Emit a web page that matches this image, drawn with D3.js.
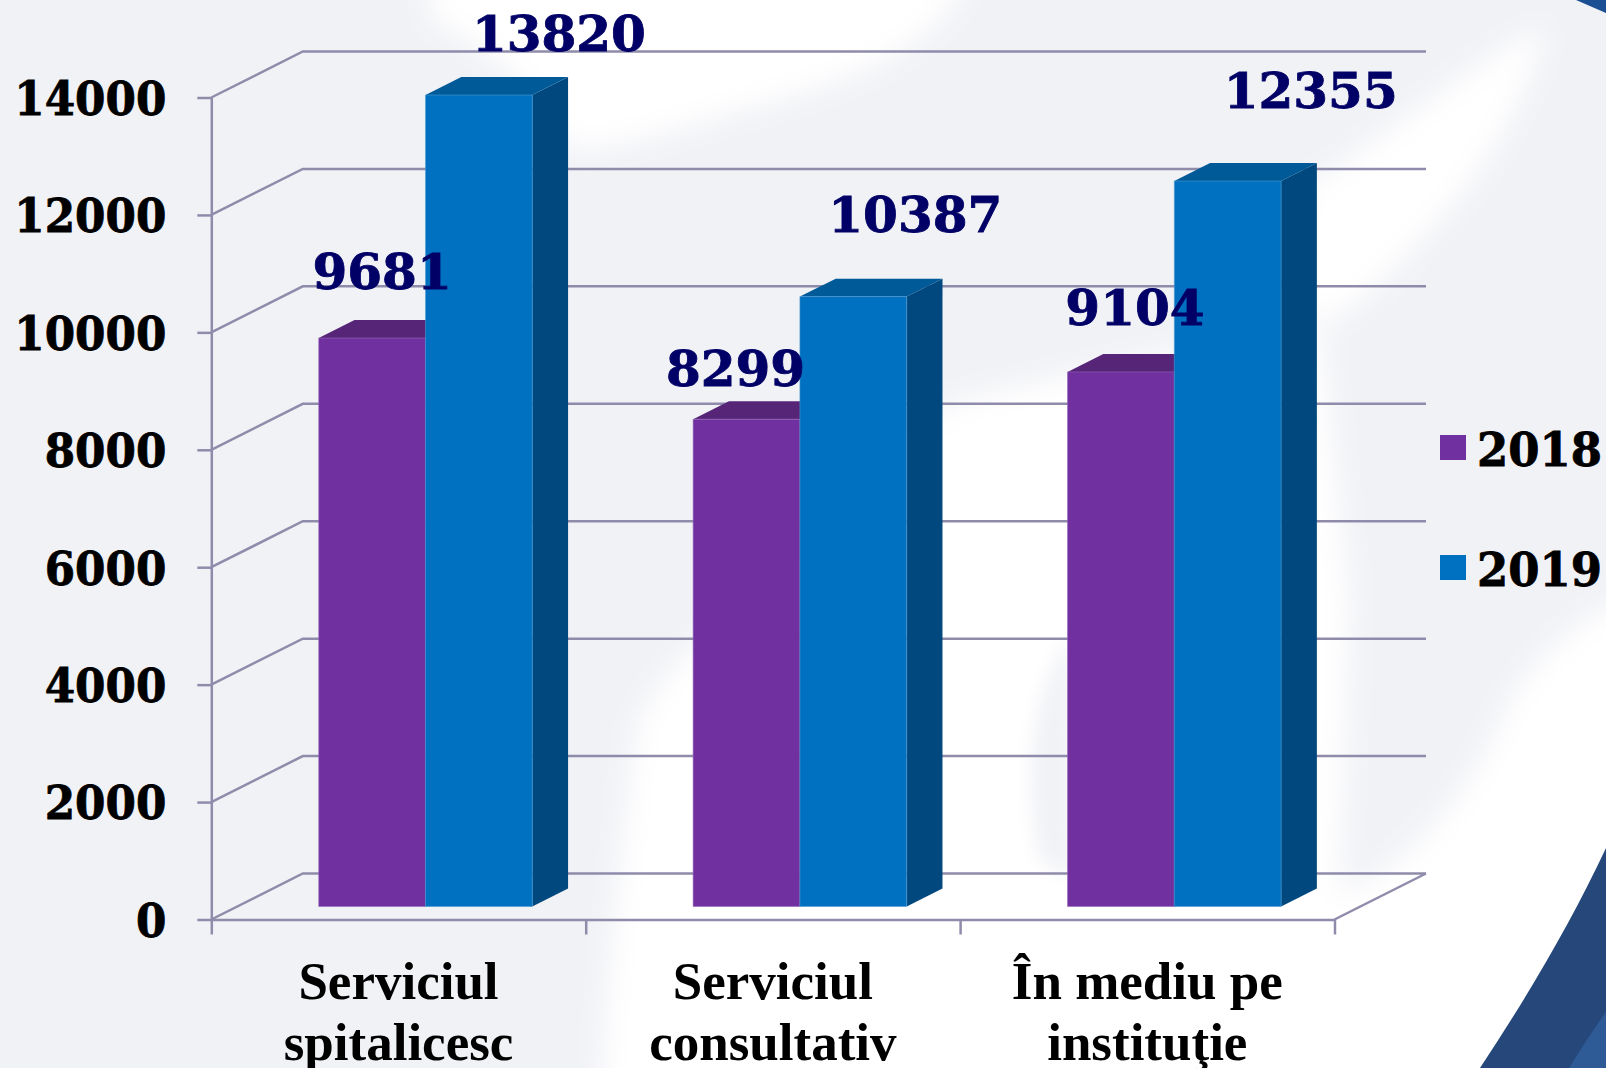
<!DOCTYPE html>
<html>
<head>
<meta charset="utf-8">
<style>
	html, body { margin: 0; padding: 0; background: #f1f2f6; }
	svg { display: block; }
</style>
<script src="https://d3js.org/d3.v7.min.js"></script>
</head>
<body>
<svg width="1606" height="1068"></svg>
<script>

	var categories = [["Serviciul", "spitalicesc"], ["Serviciul", "consultativ"], ["În mediu pe", "instituţie"]];
	var seriesNames = ["2018", "2019"];
	var values2018 = [9681, 8299, 9104];
	var values2019 = [13820, 10387, 12355];
	var yTicks = [0, 2000, 4000, 6000, 8000, 10000, 12000, 14000];

	var colors = {
		"2018": {front: "#7030a0", top: "#572578", side: "#4c2069", edge: "#9468bb"},
		"2019": {front: "#0070c0", top: "#005a98", side: "#00487e", edge: "#4a9ad2"}
	};
	var gridColor = "#8f8cab";

	// labels were placed by hand in the original, so each one has its own shift from its bar
	var labelShift = {
		"2018": [[10, -49], [-11, -33], [14, -47]],
		"2019": [[80, -44], [62, -65], [83, -73]]
	};

	var svg = d3.select("svg");

	// background
	var defs = svg.append("defs");
	defs.append("filter").attr("id", "soft").attr("x", "-30%").attr("y", "-30%").attr("width", "160%").attr("height", "160%")
		.append("feGaussianBlur").attr("stdDeviation", 14);
	defs.append("filter").attr("id", "softer").attr("x", "-30%").attr("y", "-30%").attr("width", "160%").attr("height", "160%")
		.append("feGaussianBlur").attr("stdDeviation", 9);

	var bg = svg.append("g");
	bg.append("rect").attr("width", 1606).attr("height", 1068).attr("fill", "#f1f2f6");
	var white = [
		"M430,-30 L970,-30 C950,40 860,80 760,105 C690,125 620,150 570,150 C550,110 500,50 430,20 Z",
		"M1545,25 C1530,100 1480,180 1420,240 C1390,275 1350,310 1320,330 L1290,290 L1300,190 C1370,150 1460,70 1545,25 Z",
		"M600,1100 C606,1000 615,900 636,730 C650,680 720,620 800,550 C850,500 900,430 960,400 L1320,320 L1350,600 L1340,895 C1400,870 1470,800 1510,700 C1540,650 1580,620 1640,590 L1640,1100 Z"
	];
	bg.selectAll(".swoosh").data(white).enter().append("path")
		.attr("class", "swoosh")
		.attr("d", function(d) { return d; })
		.attr("fill", "#ffffff")
		.attr("filter", "url(#soft)");
	bg.append("path")
		.attr("d", "M1068,640 C1035,690 1020,770 1040,860 L1072,880 L1072,640 Z")
		.attr("fill", "#f1f2f6")
		.attr("filter", "url(#softer)");
	bg.append("path")
		.attr("d", "M1606,848 C1570,925 1525,1000 1480,1068 L1606,1068 Z")
		.attr("fill", "#25477a");
	bg.append("path")
		.attr("d", "M1606,1012 C1593,1030 1580,1050 1569,1068 L1606,1068 Z")
		.attr("fill", "#2e5b96");
	bg.append("path")
		.attr("d", "M1576,0 L1606,0 L1606,13 Z")
		.attr("fill", "#1b4f94");

	// scales
	var x = d3.scaleBand().domain(d3.range(categories.length)).range([211.3, 1334.5]);
	var xInner = d3.scaleBand().domain(seriesNames).range([x.bandwidth() * 0.2178, x.bandwidth() * 0.7882]);
	var xEdge = d3.scaleLinear().domain([0, categories.length]).range([211.3, 1334.5]);
	var y = d3.scaleLinear().domain([0, 14000]).range([919.5, 97.5]);
	var depthX = d3.scaleLinear().domain([0, 1]).range([0, 91.5]);
	var depthY = d3.scaleLinear().domain([0, 1]).range([0, -46]);

	// a point on the floor grid: px across, value up, z into the wall
	function pt(px, v, z) {
		return [px + depthX(z), y(v) + depthY(z)];
	}
	var line = d3.line();

	// gridlines
	var grid = svg.append("g");
	grid.selectAll(".grid").data(yTicks).enter().append("path")
		.attr("class", "grid")
		.attr("fill", "none")
		.attr("stroke", gridColor)
		.attr("stroke-width", 2.5)
		.attr("d", function(d) {
			return line([pt(211.3, d, 0), pt(211.3, d, 1), pt(1334.5, d, 1)]);
		});
	grid.append("path")
		.attr("fill", "none")
		.attr("stroke", gridColor)
		.attr("stroke-width", 2.5)
		.attr("d", line([pt(1334.5, 0, 0), pt(1334.5, 0, 1)]));

	// axes
	var yAxis = svg.append("g")
		.attr("transform", "translate(211.3,0)")
		.call(d3.axisLeft(y).tickValues(yTicks).tickFormat(d3.format("d")).tickSize(14).tickPadding(31).tickSizeOuter(0));
	var xAxis = svg.append("g")
		.attr("transform", "translate(0," + y(0) + ")")
		.call(d3.axisBottom(xEdge).ticks(categories.length).tickSize(15).tickFormat("").tickSizeOuter(0));
	svg.selectAll(".domain, .tick line").attr("stroke", gridColor).attr("stroke-width", 2.5);

	yAxis.selectAll("text")
		.attr("font-family", "'DejaVu Serif'")
		.attr("font-weight", "bold")
		.attr("font-size", 47)
		.attr("fill", "#000")
		.attr("stroke", "#000")
		.attr("stroke-width", 0.8)
		.attr("lengthAdjust", "spacingAndGlyphs")
		.attr("textLength", function(d) { return String(d).length * 30.4; })
		.attr("dy", "0.36em");

	// bars, back of the floor first
	var zFront = 0.283, zBack = 0.674;
	var rows = [];
	seriesNames.forEach(function(name, s) {
		var vals = s == 0 ? values2018 : values2019;
		vals.forEach(function(v, i) {
			rows.push({name: name, i: i, v: v, x0: x(i) + xInner(name), x1: x(i) + xInner(name) + xInner.bandwidth()});
		});
	});

	var bars = svg.selectAll(".bar").data(rows).enter().append("g").attr("class", "bar");
	bars.append("path")
		.attr("fill", function(d) { return colors[d.name].side; })
		.attr("d", function(d) {
			return line([pt(d.x1, 0, zFront), pt(d.x1, 0, zBack), pt(d.x1, d.v, zBack), pt(d.x1, d.v, zFront)]) + "Z";
		});
	bars.append("path")
		.attr("fill", function(d) { return colors[d.name].top; })
		.attr("d", function(d) {
			return line([pt(d.x0, d.v, zFront), pt(d.x0, d.v, zBack), pt(d.x1, d.v, zBack), pt(d.x1, d.v, zFront)]) + "Z";
		});
	bars.append("path")
		.attr("fill", function(d) { return colors[d.name].front; })
		.attr("stroke", function(d) { return colors[d.name].edge; })
		.attr("stroke-width", 0.6)
		.attr("d", function(d) {
			return line([pt(d.x0, 0, zFront), pt(d.x0, d.v, zFront), pt(d.x1, d.v, zFront), pt(d.x1, 0, zFront)]) + "Z";
		});

	// value labels
	svg.selectAll(".val").data(rows).enter().append("text")
		.attr("class", "val")
		.attr("text-anchor", "middle")
		.attr("font-family", "'DejaVu Serif'")
		.attr("font-weight", "bold")
		.attr("font-size", 48)
		.attr("fill", "#000066")
		.attr("stroke", "#000066")
		.attr("stroke-width", 0.8)
		.attr("lengthAdjust", "spacingAndGlyphs")
		.attr("textLength", function(d) { return String(d.v).length * 34.8; })
		.attr("x", function(d) { return pt((d.x0 + d.x1) / 2, d.v, zFront)[0] + labelShift[d.name][d.i][0]; })
		.attr("y", function(d) { return pt((d.x0 + d.x1) / 2, d.v, zFront)[1] + labelShift[d.name][d.i][1]; })
		.text(function(d) { return d.v; });

	// category labels
	var cats = svg.selectAll(".cat").data(categories).enter().append("text")
		.attr("class", "cat")
		.attr("text-anchor", "middle")
		.attr("font-family", "'Liberation Serif'")
		.attr("font-weight", "bold")
		.attr("font-size", 53)
		.attr("fill", "#000");
	cats.selectAll("tspan").data(function(d, i) { return d.map(function(t) { return {t: t, i: i}; }); })
		.enter().append("tspan")
		.attr("x", function(d) { return x(d.i) + x.bandwidth() / 2; })
		.attr("y", function(d, k) { return 999 + k * 61; })
		.text(function(d) { return d.t; });

	// legend
	var legendY = d3.scalePoint().domain(seriesNames).range([448, 568]);
	var legend = svg.selectAll(".legend").data(seriesNames).enter().append("g")
		.attr("class", "legend")
		.attr("transform", function(d) { return "translate(1440," + legendY(d) + ")"; });
	legend.append("rect")
		.attr("y", -13)
		.attr("width", 26)
		.attr("height", 25)
		.attr("fill", function(d) { return colors[d].front; });
	legend.append("text")
		.attr("x", 37)
		.attr("y", 18)
		.attr("font-family", "'DejaVu Serif'")
		.attr("font-weight", "bold")
		.attr("font-size", 47)
		.attr("fill", "#000")
		.attr("stroke", "#000")
		.attr("stroke-width", 0.8)
		.attr("lengthAdjust", "spacingAndGlyphs")
		.attr("textLength", 125)
		.text(function(d) { return d; });

</script>
</body>
</html>
